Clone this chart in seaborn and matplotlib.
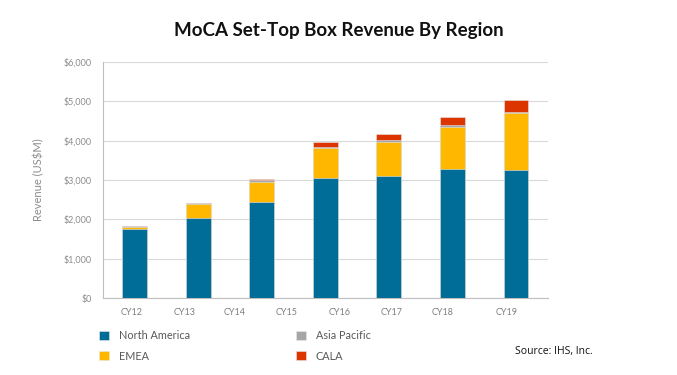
import matplotlib
matplotlib.use("Agg")
import matplotlib.pyplot as plt
import numpy as np
import pandas as pd
import seaborn as sns

# data (US$M)
bars = ["B1", "B2", "B3", "B4", "B5", "B6", "B7"]
north_america = [1760, 2035, 2445, 3055, 3095, 3275, 3250]
emea = [45, 365, 510, 750, 870, 1080, 1460]
asia_pacific = [15, 15, 35, 35, 60, 50, 25]
cala = [5, 5, 40, 120, 145, 205, 290]
tick_labels = ["CY12", "CY13", "CY14", "CY15", "CY16", "CY17", "CY18", "CY19"]
regions = ["North America", "EMEA", "Asia Pacific", "CALA"]
colors = {"North America": "#006c98", "EMEA": "#ffb700",
          "Asia Pacific": "#a6a6a6", "CALA": "#dc3500"}

df = pd.DataFrame({"bar": bars, "North America": north_america, "EMEA": emea,
                   "Asia Pacific": asia_pacific, "CALA": cala})
# cumulative tops for stacking
cum = df[regions].cumsum(axis=1)
cum["bar"] = df["bar"]

sns.set_style("white")
plt.rcParams["font.family"] = ["Lato", "DejaVu Sans"]

fig = plt.figure(figsize=(6.77, 3.75), dpi=100)
ax = fig.add_axes([0.152, 0.205, 0.657, 0.63])

# draw from the top layer down so lower layers cover the upper ones
for r in regions[::-1]:
    sns.barplot(data=cum, x="bar", y=r, color=colors[r], width=0.39,
                saturation=1, ax=ax, zorder=3, label=r, linewidth=0.4,
                edgecolor="#e8e8e8")

ax.set_ylim(0, 6000)
ax.set_xlim(-0.5, 6.5)
ax.set_yticks(range(0, 6001, 1000))
ax.set_yticklabels(["${:,}".format(v) for v in range(0, 6001, 1000)],
                   fontsize=6.5, color="#8c8c8c")
ax.yaxis.grid(True, color="#d9d9d9", lw=0.8, zorder=0)
ax.tick_params(axis="y", length=5, width=0.8, color="#d9d9d9", pad=3)

# x labels sit on their own positions, tick marks at bar slot edges
tick_pos = [-0.05, 0.78, 1.58, 2.39, 3.23, 4.04, 4.84, 5.85]
ax.set_xticks(tick_pos)
ax.set_xticklabels(tick_labels, fontsize=6.5, color="#7f7f7f")
ax.tick_params(axis="x", length=0, pad=7)
ax.set_xticks(np.arange(-0.5, 7, 1), minor=True)
ax.tick_params(axis="x", which="minor", length=3, width=0.8, color="#bfbfbf")

ax.set_xlabel("")
ax.set_ylabel("Revenue (US$M)", fontsize=8, color="#8c8c8c", labelpad=14)
for s in ["top", "right"]:
    ax.spines[s].set_visible(False)
for s in ["left", "bottom"]:
    ax.spines[s].set_color("#bfbfbf")
    ax.spines[s].set_linewidth(0.8)

handles, labels = ax.get_legend_handles_labels()
order = [labels.index(r) for r in ["North America", "EMEA", "Asia Pacific", "CALA"]]
ax.legend([handles[i] for i in order], [labels[i] for i in order], ncol=2,
          loc="upper left", bbox_to_anchor=(-0.03, -0.095), frameon=False,
          fontsize=7.8, labelcolor="#595959", handlelength=0.9, handleheight=0.9,
          handletextpad=0.9, columnspacing=9.8, labelspacing=0.85)

fig.text(0.5, 0.918, "MoCA Set-Top Box Revenue By Region", ha="center",
         va="center", fontsize=13.5, fontweight="bold", color="#111111")
fig.text(0.761, 0.062, "Source: IHS, Inc.", fontsize=7.5, color="#111111",
         family=["Open Sans", "DejaVu Sans"], va="center")

fig.savefig("out.png", dpi=100)
